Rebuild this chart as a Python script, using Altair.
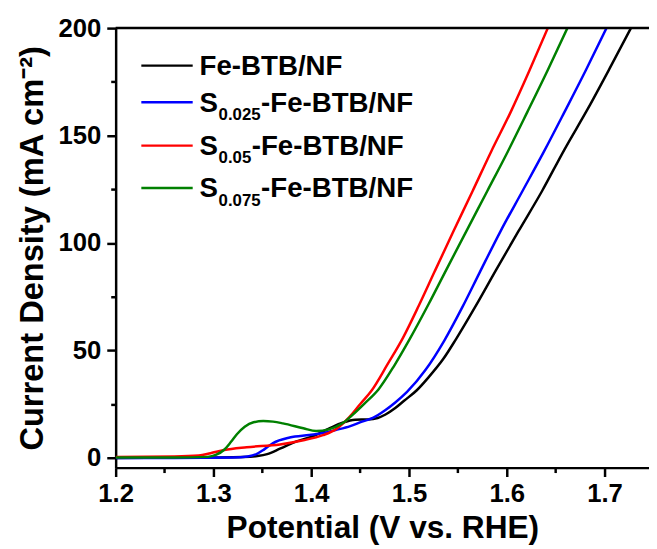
import altair as alt
import pandas as pd

# ---------------- data ----------------
series_names = ["Fe-BTB/NF", "S0.025-Fe-BTB/NF", "S0.05-Fe-BTB/NF", "S0.075-Fe-BTB/NF"]
series_colors = ["#000000", "#0000FF", "#FF0000", "#008000"]

black_x = [1.200, 1.260, 1.300, 1.330, 1.345, 1.355, 1.368, 1.385, 1.402, 1.418, 1.432,
           1.445, 1.458, 1.468, 1.476, 1.486, 1.495, 1.508, 1.520, 1.535, 1.548, 1.568,
           1.589, 1.612, 1.636, 1.659, 1.683, 1.705, 1.727]
black_y = [0.0, 0.1, 0.2, 0.4, 0.9, 1.8, 4.3, 7.7, 10.2, 13.6, 16.4,
           17.8, 17.9, 18.6, 20.2, 23.2, 26.6, 31.5, 37.5, 46.0, 55.2, 70.5,
           87.4, 105.5, 124.1, 143.5, 162.5, 181.0, 200.0]

blue_x = [1.200, 1.260, 1.320, 1.335, 1.344, 1.352, 1.361, 1.378, 1.398, 1.412, 1.425,
          1.440, 1.452, 1.463, 1.476, 1.486, 1.498, 1.517, 1.536, 1.555, 1.572, 1.594,
          1.616, 1.638, 1.659, 1.681, 1.702]
blue_y = [0.0, 0.0, 0.2, 0.7, 1.8, 4.0, 6.9, 9.5, 10.7, 11.6, 13.0,
          14.8, 16.9, 18.6, 22.3, 25.8, 30.7, 41.0, 54.5, 70.5, 86.0, 105.8,
          124.1, 142.5, 160.9, 180.5, 200.0]

red_x = [1.200, 1.260, 1.285, 1.297, 1.311, 1.334, 1.368, 1.392, 1.412, 1.425, 1.439,
         1.450, 1.462, 1.478, 1.494, 1.510, 1.526, 1.545, 1.565, 1.584, 1.604, 1.623, 1.642]
red_y = [0.5, 0.7, 1.1, 2.2, 3.7, 5.0, 6.3, 8.2, 10.6, 13.3, 19.0,
         25.0, 31.5, 43.5, 56.0, 70.8, 86.5, 105.0, 124.1, 142.5, 160.9, 180.0, 200.0]

green_x = [1.200, 1.260, 1.294, 1.303, 1.311, 1.318, 1.324, 1.332, 1.341, 1.351, 1.361,
           1.371, 1.392, 1.405, 1.418, 1.432, 1.442, 1.455, 1.469, 1.485, 1.501, 1.520,
           1.538, 1.559, 1.580, 1.601, 1.621, 1.642, 1.662]
green_y = [0.2, 0.2, 0.5, 1.5, 3.8, 7.5, 11.0, 14.5, 16.6, 17.2, 16.9,
           16.1, 13.8, 12.5, 13.3, 16.1, 19.9, 25.5, 32.0, 43.0, 55.5, 71.5,
           87.4, 105.8, 124.1, 142.5, 160.9, 180.5, 200.0]

x_ticks = [1.2, 1.25, 1.3, 1.35, 1.4, 1.45, 1.5, 1.55, 1.6, 1.65, 1.7]
y_ticks = [0, 25, 50, 75, 100, 125, 150, 175, 200]

legend_main = ["Fe-BTB/NF", "S", "S", "S"]
legend_sub = ["", "0.025", "0.05", "0.075"]
legend_rest = ["", "-Fe-BTB/NF", "-Fe-BTB/NF", "-Fe-BTB/NF"]

# ---------------- build table ----------------
rows = []
for name, xs, ys in zip(series_names,
                        [black_x, blue_x, red_x, green_x],
                        [black_y, blue_y, red_y, green_y]):
    for i, (xv, yv) in enumerate(zip(xs, ys)):
        rows.append({"series": name, "E": xv, "J": yv, "order": i})
df = pd.DataFrame(rows)

# ---------------- layout / style ----------------
W, H = 540, 445
FONT = "Liberation Sans"
LW = 2.5

x_major = "abs(datum.value*10 - round(datum.value*10)) < 0.001"
y_major = "datum.value % 50 === 0"

x_axis = alt.Axis(
    values=x_ticks, format=".1f",
    labelExpr=f"({x_major}) ? datum.label : ''",
    tickSize={"condition": {"test": x_major, "value": 9}, "value": 5},
    tickWidth=LW, tickColor="black", domainWidth=LW, domainColor="black",
    labelFont=FONT, labelFontSize=26, labelFontWeight="bold", labelColor="black",
    labelPadding=4, labelFlush=False, labelOverlap=False, grid=False,
    title="Potential (V vs. RHE)", titleFont=FONT, titleFontSize=32,
    titleFontWeight="bold", titleColor="black", titleY=71, titleBaseline="alphabetic",
)
y_axis = alt.Axis(
    values=y_ticks,
    labelExpr=f"({y_major}) ? datum.label : ''",
    tickSize={"condition": {"test": y_major, "value": 9}, "value": 5},
    tickWidth=LW, tickColor="black", domainWidth=LW, domainColor="black",
    labelFont=FONT, labelFontSize=26, labelFontWeight="bold", labelColor="black",
    labelPadding=6, labelOverlap=False, grid=False,
    title="Current Density (mA cm⁻²)", titleFont=FONT, titleFontSize=33,
    titleFontWeight="bold", titleColor="black", titleX=-74, titleBaseline="alphabetic",
)

lines = alt.Chart(df).mark_line(strokeWidth=LW, interpolate="monotone", clip=True).encode(
    x=alt.X("E:Q", scale=alt.Scale(domain=[1.2, 1.7455], nice=False, zero=False), axis=x_axis),
    y=alt.Y("J:Q", scale=alt.Scale(domain=[-4.5, 200], nice=False, zero=False), axis=y_axis),
    color=alt.Color("series:N", scale=alt.Scale(domain=series_names, range=series_colors), legend=None),
    order=alt.Order("order:Q"),
)

one = pd.DataFrame({"a": [0]})
top_rule = alt.Chart(one).mark_rule(color="black", strokeWidth=LW).encode(
    x=alt.value(0), x2=alt.value(W), y=alt.value(0))

# Arial/Liberation Sans Bold advance widths (em)
CW = {"0": 0.556, "2": 0.556, "5": 0.556, "7": 0.556, ".": 0.278, "S": 0.667}
def tw(s, size):
    return sum(CW.get(c, 0.6) for c in s) * size

MAIN_FS, SUB_FS = 28, 17
line_y = [38, 75, 119, 162]
base_y = [47.5, 84.5, 128, 171.5]
layers = [lines, top_rule]
for i in range(4):
    layers.append(alt.Chart(one).mark_rule(color=series_colors[i], strokeWidth=LW).encode(
        x=alt.value(26), x2=alt.value(78), y=alt.value(line_y[i])))
    x0 = 85
    parts = [(legend_main[i], MAIN_FS, base_y[i])]
    if legend_sub[i]:
        parts.append((legend_sub[i], SUB_FS, base_y[i] + 8.5))
        parts.append((legend_rest[i], MAIN_FS, base_y[i]))
    for txt, fs, yy in parts:
        layers.append(alt.Chart(pd.DataFrame({"t": [txt]})).mark_text(
            align="left", baseline="alphabetic", font=FONT, fontSize=fs,
            fontWeight="bold", color="black").encode(
            x=alt.value(x0), y=alt.value(yy), text="t:N"))
        x0 += tw(txt, fs) + 0.5

chart = alt.layer(*layers).properties(
    width=W, height=H,
    autosize=alt.AutoSizeParams(type="none"),
    padding={"left": 109, "top": 17, "right": 0, "bottom": 76},
).configure_view(stroke=None)

chart.save("out.html", embed_options={"renderer": "svg", "actions": False})
